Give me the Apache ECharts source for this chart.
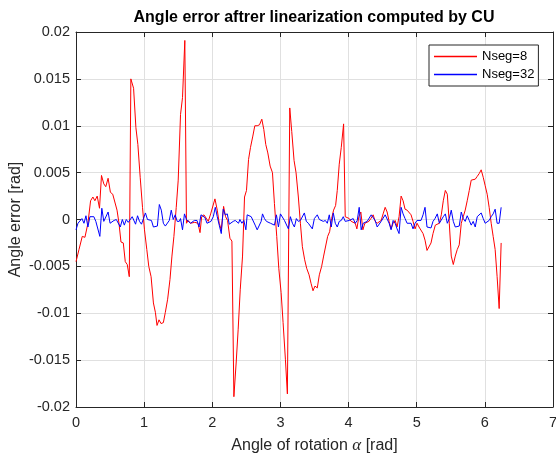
<!DOCTYPE html>
<html>
<head>
<meta charset="utf-8">
<script src="https://cdn.jsdelivr.net/npm/echarts@6/dist/echarts.min.js"></script>
<style>html,body{margin:0;padding:0;background:#fff;}#c{width:556px;height:454px;}</style>
</head>
<body>
<div id="c"></div>
<script>
// Nseg=8 (red)
const redX = [0.000,0.044,0.092,0.131,0.175,0.214,0.248,0.277,0.311,0.345,0.374,0.408,0.437,0.471,0.505,0.539,0.568,0.602,0.631,0.660,0.694,0.723,0.752,0.782,0.805,0.845,0.879,0.908,0.942,0.976,1.005,1.039,1.068,1.102,1.136,1.165,1.189,1.218,1.248,1.282,1.311,1.345,1.379,1.408,1.437,1.471,1.500,1.534,1.563,1.597,1.621,1.646,1.680,1.709,1.743,
1.790,1.820,1.844,1.878,1.907,1.941,1.976,2.005,2.039,2.073,2.102,2.132,2.166,2.195,2.224,2.259,2.288,2.317,2.351,2.380,2.410,2.444,2.473,2.502,2.532,2.561,2.595,2.624,2.659,2.693,2.727,2.756,2.785,2.815,2.849,2.883,2.912,2.946,2.976,3.010,3.039,3.073,3.102,3.137,3.166,3.200,3.229,3.263,3.293,3.322,3.356,3.385,3.420,3.449,3.478,3.507,
3.541,3.571,3.605,3.634,3.663,3.693,3.722,3.751,3.780,3.810,3.834,3.863,3.893,3.927,3.951,3.980,4.010,4.039,4.068,4.098,4.122,4.151,4.180,4.210,4.239,4.268,4.298,4.327,4.361,4.390,4.420,4.449,4.478,4.507,4.537,4.566,4.595,4.624,4.654,4.683,4.712,4.741,4.771,4.800,4.829,4.859,4.888,4.917,4.946,4.976,5.005,5.034,5.063,5.093,5.122,5.151,5.180,5.210,5.239,
5.273,5.302,5.332,5.361,5.390,5.420,5.449,5.478,5.507,5.537,5.566,5.595,5.624,5.654,5.683,5.712,5.741,5.771,5.800,5.829,5.859,5.888,5.917,5.946,5.976,6.005,6.034,6.063,6.093,6.122,6.151,6.180,6.210,6.239];
const redY = [-0.0045,-0.0032,-0.0018,-0.0019,-0.0004,0.0020,0.0024,0.0020,0.0025,0.0012,0.0047,0.0038,0.0035,0.0044,0.0029,0.0027,0.0027,0.0010,-0.0004,-0.0024,-0.0025,-0.0045,-0.0048,-0.0061,0.0150,0.0140,0.0098,0.0080,0.0045,0.0013,-0.0011,-0.0032,-0.0050,-0.0061,-0.0089,-0.0099,-0.0113,-0.0107,-0.0111,-0.0110,-0.0099,-0.0085,-0.0064,-0.0039,-0.0018,0.0013,0.0042,0.0112,0.0130,0.0191,-0.0004,-0.0001,-0.0004,-0.0004,-0.0003,
-0.0004,-0.0014,0.0003,0.0005,0.0003,-0.0002,0.0006,0.0008,0.0022,0.0010,-0.0004,-0.0011,0.0014,0.0003,-0.0001,-0.0020,-0.0023,-0.0189,-0.0152,-0.0117,-0.0075,-0.0039,0.0024,0.0031,0.0064,0.0077,0.0089,0.0100,0.0100,0.0101,0.0107,0.0096,0.0080,0.0071,0.0057,0.0050,0.0017,-0.0018,-0.0052,-0.0078,-0.0110,-0.0149,-0.0186,0.0119,0.0094,0.0063,0.0050,0.0024,-0.0004,-0.0029,-0.0043,-0.0052,-0.0059,-0.0068,-0.0076,-0.0071,
-0.0073,-0.0059,-0.0050,-0.0039,-0.0038,-0.0018,-0.0013,0.0001,0.0010,0.0015,0.0031,0.0059,0.0077,0.0102,0.0003,0.0003,0.0001,-0.0002,-0.0001,-0.0004,-0.0010,0.0003,0.0008,-0.0011,-0.0004,-0.0004,-0.0002,0.0001,0.0005,-0.0002,-0.0004,-0.0002,-0.0001,0.0006,0.0013,0.0008,-0.0002,-0.0010,-0.0004,-0.0001,-0.0008,0.0003,0.0025,0.0020,0.0011,0.0010,0.0009,0.0005,-0.0002,-0.0010,-0.0004,-0.0008,-0.0010,-0.0015,-0.0022,-0.0033,-0.0032,-0.0025,-0.0015,
-0.0006,-0.0004,-0.0004,0.0005,0.0020,0.0031,0.0027,-0.0004,-0.0039,-0.0048,-0.0039,-0.0032,-0.0027,-0.0004,0.0003,0.0010,0.0020,0.0031,0.0042,0.0042,0.0043,0.0046,0.0049,0.0053,0.0045,0.0036,0.0027,0.0013,-0.0004,-0.0018,-0.0032,-0.0061,-0.0095,-0.0025];

// Nseg=32 (blue)
const blueX = [0.000,0.029,0.058,0.087,0.117,0.146,0.175,0.204,0.233,0.262,0.291,0.320,0.350,0.379,0.408,0.437,0.471,0.500,0.529,0.558,0.592,0.621,0.650,0.680,0.709,0.738,0.767,0.796,0.825,0.845,0.874,0.903,0.932,0.961,0.990,1.019,1.049,1.078,1.107,1.136,1.165,1.194,1.223,1.252,1.282,1.311,1.340,1.369,1.398,1.427,1.456,1.485,1.515,1.534,1.563,1.592,1.621,1.650,1.680,1.709,1.738,
1.776,1.805,1.834,1.863,1.893,1.922,1.951,1.980,2.015,2.044,2.073,2.102,2.132,2.161,2.190,2.220,2.249,2.278,2.307,2.337,2.356,2.385,2.405,2.434,2.463,2.493,2.512,2.541,2.571,2.600,2.629,2.659,2.688,2.717,2.737,2.766,2.795,2.824,2.854,2.883,2.912,2.941,2.971,3.000,3.029,3.059,3.088,3.117,3.146,3.176,3.205,3.234,3.263,3.293,3.322,3.351,3.380,3.410,3.439,3.468,3.498,
3.512,3.541,3.571,3.600,3.629,3.659,3.688,3.717,3.746,3.776,3.805,3.834,3.863,3.893,3.922,3.951,3.980,4.010,4.039,4.068,4.098,4.127,4.156,4.185,4.215,4.244,4.273,4.302,4.332,4.361,4.390,4.420,4.449,4.478,4.507,4.537,4.566,4.595,4.624,4.654,4.683,4.712,4.741,4.771,4.800,4.829,4.859,4.888,4.917,4.946,4.976,5.005,5.034,5.063,5.093,5.122,5.151,5.180,5.210,5.239,5.268,
5.302,5.332,5.361,5.390,5.420,5.449,5.478,5.507,5.537,5.566,5.595,5.624,5.654,5.683,5.712,5.741,5.771,5.800,5.829,5.859,5.888,5.917,5.946,5.976,6.005,6.034,6.063,6.093,6.122,6.151,6.180,6.210,6.239];
const blueY = [-0.0011,-0.0004,-0.0002,0.0001,-0.0004,0.0004,-0.0008,0.0003,0.0005,0.0003,-0.0002,-0.0002,-0.0018,0.0012,-0.0002,-0.0003,0.0008,-0.0004,-0.0002,-0.0001,0.0000,0.0002,-0.0008,0.0000,-0.0006,0.0000,-0.0003,-0.0001,0.0003,0.0005,-0.0005,0.0004,-0.0002,-0.0005,0.0001,0.0007,0.0000,0.0002,-0.0001,-0.0008,-0.0008,-0.0007,0.0016,0.0010,-0.0004,-0.0007,-0.0008,-0.0001,0.0010,0.0000,0.0005,-0.0002,-0.0002,0.0001,-0.0011,0.0006,0.0000,-0.0001,-0.0004,-0.0002,-0.0001,
-0.0001,-0.0008,0.0005,0.0005,0.0002,-0.0004,-0.0004,-0.0002,0.0003,0.0013,0.0003,-0.0006,-0.0015,0.0011,0.0005,0.0006,-0.0005,-0.0004,-0.0002,-0.0001,0.0001,-0.0004,0.0000,-0.0004,-0.0001,-0.0011,0.0005,0.0006,0.0003,0.0005,-0.0006,-0.0011,-0.0011,-0.0002,0.0006,0.0001,-0.0002,-0.0001,-0.0004,-0.0002,-0.0006,0.0005,-0.0008,0.0006,0.0008,-0.0001,-0.0002,-0.0010,0.0003,-0.0004,-0.0008,0.0001,-0.0002,-0.0001,0.0001,0.0007,-0.0002,-0.0004,-0.0006,-0.0010,0.0001,
0.0003,0.0005,0.0000,-0.0001,-0.0002,-0.0001,-0.0004,0.0005,-0.0008,0.0007,-0.0004,-0.0008,-0.0002,-0.0001,0.0003,-0.0002,0.0000,-0.0001,-0.0002,0.0001,-0.0004,-0.0001,0.0013,-0.0011,-0.0004,-0.0004,-0.0002,-0.0001,0.0005,0.0003,-0.0001,-0.0008,-0.0006,-0.0002,-0.0001,0.0005,0.0003,-0.0004,-0.0011,-0.0001,-0.0004,-0.0010,-0.0015,0.0013,0.0006,0.0001,-0.0004,-0.0002,-0.0004,-0.0010,-0.0004,-0.0001,0.0001,-0.0001,0.0005,0.0013,-0.0008,-0.0008,-0.0009,-0.0002,0.0001,
0.0006,-0.0004,-0.0002,0.0003,0.0006,-0.0004,0.0001,0.0010,-0.0002,-0.0008,-0.0006,-0.0007,0.0008,0.0001,-0.0002,0.0004,-0.0001,-0.0006,-0.0002,-0.0008,0.0003,0.0001,0.0007,0.0001,-0.0004,-0.0006,-0.0001,0.0003,0.0006,0.0011,-0.0004,-0.0004,0.0013];

const seriesNames = ['Nseg=8', 'Nseg=32'];
const xTicks = [0, 1, 2, 3, 4, 5, 6, 7];
const yTicks = [-0.02, -0.015, -0.01, -0.005, 0, 0.005, 0.01, 0.015, 0.02];

const FONT = "'Liberation Sans', Arial, Helvetica, sans-serif";
const AX = '#262626';
const zip = (xs, ys) => xs.map((x, i) => [x, ys[i]]);

const chart = echarts.init(document.getElementById('c'), null, {renderer: 'canvas'});
const common = {
  min: xTicks[0], max: xTicks[xTicks.length - 1], interval: 1
};
const ycommon = {
  min: yTicks[0], max: yTicks[yTicks.length - 1], interval: 0.005
};
chart.setOption({
  animation: false,
  backgroundColor: '#ffffff',
  title: {
    text: 'Angle error aftrer linearization computed by CU',
    left: 314, top: 10, padding: 0, textAlign: 'center',
    textStyle: {fontFamily: FONT, fontSize: 16, fontWeight: 'bold', color: '#000'}
  },
  grid: {left: 76, right: 3, top: 32, bottom: 47, containLabel: false, outerBoundsMode: 'none'},
  legend: {
    data: seriesNames,
    orient: 'vertical',
    left: 429, top: 45,
    padding: [5, 4, 5, 5],
    itemGap: 5,
    itemWidth: 43, itemHeight: 1.3,
    icon: 'rect',
    backgroundColor: '#ffffff',
    borderColor: AX, borderWidth: 1,
    textStyle: {fontFamily: FONT, fontSize: 13, color: '#000', lineHeight: 13, padding: [0, 0, 0, 0]},
    itemStyle: {borderWidth: 0}
  },
  xAxis: [{
    type: 'value', ...common, position: 'bottom',
    name: 'Angle of rotation {a|α} [rad]', nameLocation: 'middle', nameGap: 30,
    nameTextStyle: {fontFamily: FONT, fontSize: 16, color: AX,
      rich: {a: {fontFamily: "'Liberation Serif', 'DejaVu Serif', serif", fontStyle: 'italic', fontSize: 17, color: AX}}},
    axisLine: {show: true, onZero: false, lineStyle: {color: AX, width: 1}},
    axisTick: {show: true, inside: true, length: 5, lineStyle: {color: AX}},
    axisLabel: {fontFamily: FONT, fontSize: 14.5, color: AX, margin: 8},
    splitLine: {show: true, lineStyle: {color: '#e0e0e0', width: 1}}
  }, {
    type: 'value', ...common, position: 'top',
    axisLine: {show: true, onZero: false, lineStyle: {color: AX, width: 1}},
    axisTick: {show: true, inside: true, length: 5, lineStyle: {color: AX}},
    axisLabel: {show: false}, splitLine: {show: false}
  }],
  yAxis: [{
    type: 'value', ...ycommon, position: 'left',
    name: 'Angle error [rad]', nameLocation: 'middle', nameGap: 52, nameMoveOverlap: false,
    nameTextStyle: {fontFamily: FONT, fontSize: 16, color: AX},
    axisLine: {show: true, onZero: false, lineStyle: {color: AX, width: 1}},
    axisTick: {show: true, inside: true, length: 5, lineStyle: {color: AX}},
    axisLabel: {fontFamily: FONT, fontSize: 14.5, color: AX, margin: 6,
      formatter: v => String(+v.toFixed(3))},
    splitLine: {show: true, lineStyle: {color: '#e0e0e0', width: 1}}
  }, {
    type: 'value', ...ycommon, position: 'right',
    axisLine: {show: true, onZero: false, lineStyle: {color: AX, width: 1}},
    axisTick: {show: true, inside: true, length: 5, lineStyle: {color: AX}},
    axisLabel: {show: false}, splitLine: {show: false}
  }],
  series: [{
    name: seriesNames[0], type: 'line', xAxisIndex: 0, yAxisIndex: 0,
    data: zip(redX, redY), showSymbol: false, symbol: 'none',
    lineStyle: {color: '#ff0000', width: 1}, itemStyle: {color: '#ff0000'}, z: 3
  }, {
    name: seriesNames[1], type: 'line', xAxisIndex: 0, yAxisIndex: 0,
    data: zip(blueX, blueY), showSymbol: false, symbol: 'none',
    lineStyle: {color: '#0000ff', width: 1}, itemStyle: {color: '#0000ff'}, z: 4
  }]
});
</script>
</body>
</html>
